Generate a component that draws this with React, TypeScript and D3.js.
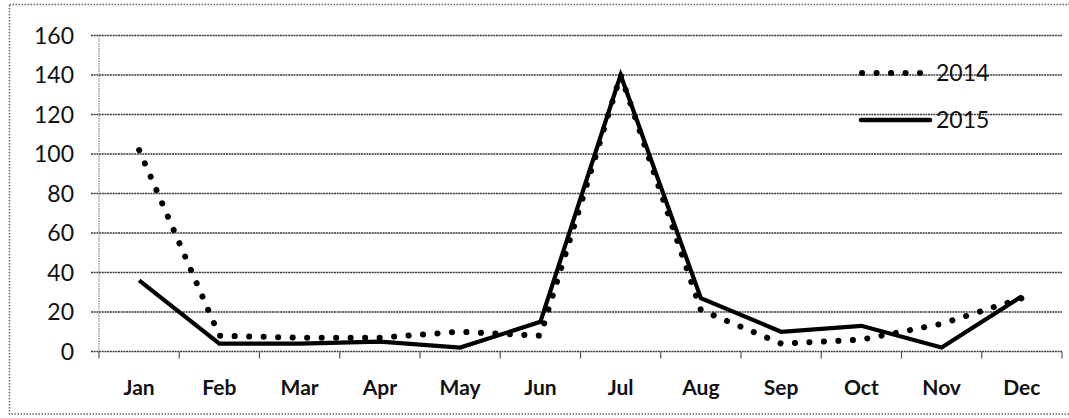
import { useEffect, useRef } from "react";
import * as d3 from "d3";

// categories and series
const months = ["Jan", "Feb", "Mar", "Apr", "May", "Jun", "Jul", "Aug", "Sep", "Oct", "Nov", "Dec"];
const values2014 = [102, 8, 7, 7, 10, 8, 140, 21, 4, 6, 14, 27];
const values2015 = [36, 4, 4, 5, 2, 15, 140, 27, 10, 13, 2, 28];
const yTicks = [0, 20, 40, 60, 80, 100, 120, 140, 160];

const App = () => {
  const ref = useRef<HTMLDivElement>(null);

  useEffect(() => {
    const width = 1069;
    const height = 418;
    const font = "Lato, 'Open Sans', sans-serif";

    const root = d3.select(ref.current);
    root.selectAll("*").remove();

    const svg = root
      .append("svg")
      .attr("width", width)
      .attr("height", height)
      .style("position", "absolute")
      .style("left", 0)
      .style("top", 0)
      .style("background", "#fff");

    // outer dotted frame
    svg
      .append("rect")
      .attr("x", 9.5)
      .attr("y", 4.5)
      .attr("width", width)
      .attr("height", 409.5)
      .attr("fill", "none")
      .attr("stroke", "#666")
      .attr("stroke-width", 1.5)
      .attr("stroke-dasharray", "1.5 1.5");

    const x = d3.scaleBand().domain(months).range([99, 1062]);
    const y = d3.scaleLinear().domain([0, 160]).range([351.5, 35.5]);
    const cx = (m: string) => (x(m) as number) + x.bandwidth() / 2;

    // horizontal gridlines (with tick stubs on the left)
    svg
      .append("g")
      .selectAll("line")
      .data(yTicks)
      .join("line")
      .attr("x1", 91)
      .attr("x2", 1062)
      .attr("y1", (d) => y(d))
      .attr("y2", (d) => y(d))
      .attr("stroke", "#3a3a3a")
      .attr("stroke-width", 1.3)
      .attr("stroke-dasharray", "2 0.7");

    // y axis line
    svg
      .append("line")
      .attr("x1", 99)
      .attr("x2", 99)
      .attr("y1", y(160))
      .attr("y2", y(0))
      .attr("stroke", "#888")
      .attr("stroke-width", 1.2)
      .attr("stroke-dasharray", "1.5 1");

    // x axis ticks at band edges
    const edges = months.map((m) => x(m) as number).concat([1062]);
    svg
      .append("g")
      .selectAll("line")
      .data(edges)
      .join("line")
      .attr("x1", (d) => d)
      .attr("x2", (d) => d)
      .attr("y1", y(0))
      .attr("y2", y(0) + 7)
      .attr("stroke", "#555")
      .attr("stroke-width", 1.2);

    // y tick labels
    svg
      .append("g")
      .selectAll("text")
      .data(yTicks)
      .join("text")
      .attr("x", 74)
      .attr("y", (d) => y(d))
      .attr("dy", "0.36em")
      .attr("text-anchor", "end")
      .style("font-family", font)
      .style("font-size", "23px")
      .attr("fill", "#111")
      .text((d) => d);

    // month labels
    svg
      .append("g")
      .selectAll("text")
      .data(months)
      .join("text")
      .attr("x", (d) => cx(d))
      .attr("y", 387)
      .attr("dy", "0.36em")
      .attr("text-anchor", "middle")
      .style("font-family", font)
      .style("font-size", "21px")
      .style("font-weight", "bold")
      .attr("fill", "#111")
      .text((d) => d);

    const line = d3
      .line<number>()
      .x((_, i) => cx(months[i]))
      .y((d) => y(d));

    // 2014 dotted
    svg
      .append("path")
      .datum(values2014)
      .attr("d", line)
      .attr("fill", "none")
      .attr("stroke", "#000")
      .attr("stroke-width", 6)
      .attr("stroke-linecap", "round")
      .attr("stroke-dasharray", "0.1 14.4");

    // 2015 solid
    svg
      .append("path")
      .datum(values2015)
      .attr("d", line)
      .attr("fill", "none")
      .attr("stroke", "#000")
      .attr("stroke-width", 4.2)
      .attr("stroke-linejoin", "miter");

    // legend
    const legend = svg.append("g");
    legend
      .append("line")
      .attr("x1", 862)
      .attr("x2", 920)
      .attr("y1", 73)
      .attr("y2", 73)
      .attr("stroke", "#000")
      .attr("stroke-width", 6)
      .attr("stroke-linecap", "round")
      .attr("stroke-dasharray", "0.1 14.4");
    legend
      .append("line")
      .attr("x1", 861)
      .attr("x2", 930)
      .attr("y1", 120)
      .attr("y2", 120)
      .attr("stroke", "#000")
      .attr("stroke-width", 4.5)
      .attr("stroke-linecap", "round");
    legend
      .selectAll("text")
      .data(["2014", "2015"])
      .join("text")
      .attr("x", 936)
      .attr("y", (_, i) => (i === 0 ? 73 : 120))
      .attr("dy", "0.36em")
      .style("font-family", font)
      .style("font-size", "23px")
      .attr("fill", "#111")
      .text((d) => d);
  }, []);

  return <div ref={ref} />;
};

export default App;
